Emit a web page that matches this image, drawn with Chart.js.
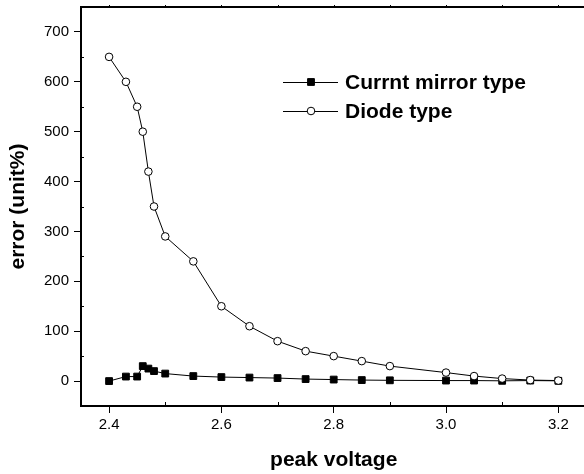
<!DOCTYPE html>
<html>
<head>
<meta charset="utf-8">
<script src="https://cdn.jsdelivr.net/npm/chart.js@4"></script>
<style>
html, body { margin: 0; padding: 0; background: #fff; overflow: hidden; }
</style>
</head>
<body>
<canvas id="chart" width="600" height="474"></canvas>
<script>
const voltage = [2.4, 2.43, 2.45, 2.46, 2.47, 2.48, 2.5, 2.55, 2.6, 2.65, 2.7, 2.75, 2.8, 2.85, 2.9, 3.0, 3.05, 3.1, 3.15, 3.2];
const mirrorError = [0, 9, 9, 30, 25, 20, 15, 10, 8, 7, 6, 4, 3, 2, 1.5, 1, 1, 0.5, 1, 0.5];
const diodeError = [650, 600, 550, 500, 420, 350, 290, 240, 150, 110, 80, 60, 50, 40, 30, 17, 10, 5, 2, 1];
const seriesNames = ['Currnt mirror type', 'Diode type'];

const xTicks = [2.4, 2.6, 2.8, 3.0, 3.2];
const xMinorTicks = [2.5, 2.7, 2.9, 3.1];
const yTicks = [0, 100, 200, 300, 400, 500, 600, 700];
const yMinorTicks = [-50, 50, 150, 250, 350, 450, 550, 650];

const FONT = "'Liberation Sans', Arial, sans-serif";

const toPoints = (xs, ys) => xs.map((x, i) => ({ x: x, y: ys[i] }));

// frame, minor ticks and a legend with the line through the marker
const extras = {
    id: 'extras',
    afterDraw(chart) {
        const ctx = chart.ctx;
        const a = chart.chartArea;
        const xs = chart.scales.x, ys = chart.scales.y;
        ctx.save();
        ctx.strokeStyle = '#000';
        ctx.lineWidth = 2;
        ctx.strokeRect(a.left, a.top, a.right - a.left, a.bottom - a.top);

        ctx.lineWidth = 1;
        ctx.beginPath();
        xMinorTicks.forEach(v => {
            const px = Math.round(xs.getPixelForValue(v)) + 0.5;
            ctx.moveTo(px, a.bottom); ctx.lineTo(px, a.bottom - 4);
        });
        xTicks.concat(xMinorTicks).forEach(v => {
            const px = Math.round(xs.getPixelForValue(v)) + 0.5;
            ctx.moveTo(px, a.top); ctx.lineTo(px, a.top - 2);
        });
        yMinorTicks.forEach(v => {
            const py = Math.round(ys.getPixelForValue(v)) + 0.5;
            ctx.moveTo(a.left, py); ctx.lineTo(a.left + 3, py);
        });
        ctx.stroke();

        // legend
        chart.data.datasets.forEach((ds, i) => {
            const y = 82 + i * 29;
            ctx.strokeStyle = ds.borderColor;
            ctx.lineWidth = 1;
            ctx.beginPath();
            ctx.moveTo(283, y + 0.5); ctx.lineTo(338, y + 0.5);
            ctx.stroke();
            ctx.fillStyle = ds.pointBackgroundColor;
            ctx.strokeStyle = ds.pointBorderColor;
            ctx.beginPath();
            if (ds.pointStyle === 'rect') {
                const s = ds.pointRadius * Math.SQRT1_2;
                ctx.rect(311 - s, y - s, 2 * s, 2 * s);
            } else {
                ctx.arc(311, y, ds.pointRadius, 0, Math.PI * 2);
            }
            ctx.fill(); ctx.stroke();
            ctx.fillStyle = '#000';
            ctx.font = 'bold 21px ' + FONT;
            ctx.textBaseline = 'middle';
            ctx.textAlign = 'left';
            ctx.fillText(ds.label, 345, y + 1);
        });
        ctx.restore();
    }
};

new Chart(document.getElementById('chart'), {
    type: 'line',
    data: {
        datasets: [{
            label: seriesNames[0],
            data: toPoints(voltage, mirrorError),
            borderColor: '#000',
            borderWidth: 1,
            pointStyle: 'rect',
            pointRadius: 4.8,
            pointBackgroundColor: '#000',
            pointBorderColor: '#000',
            pointBorderWidth: 1,
            order: 1
        }, {
            label: seriesNames[1],
            data: toPoints(voltage, diodeError),
            borderColor: '#000',
            borderWidth: 1,
            pointStyle: 'circle',
            pointRadius: 3.8,
            pointBackgroundColor: '#fff',
            pointBorderColor: '#000',
            pointBorderWidth: 1,
            order: 0
        }]
    },
    options: {
        responsive: false,
        animation: false,
        layout: { padding: { top: 7, right: 13.6, left: 0, bottom: 0 } },
        plugins: { legend: { display: false }, tooltip: { enabled: false } },
        scales: {
            x: {
                type: 'linear',
                min: 2.35, max: 3.25,
                afterBuildTicks: s => { s.ticks = xTicks.map(v => ({ value: v })); },
                afterFit: s => { s.height = 68; s.paddingLeft = 0; s.paddingRight = 0; },
                grid: { drawOnChartArea: false, tickLength: 7, color: '#000', lineWidth: 1 },
                border: { color: '#000', width: 2 },
                ticks: {
                    color: '#000', padding: 3, maxRotation: 0,
                    font: { family: FONT, size: 15 },
                    callback: v => v.toFixed(1)
                },
                title: {
                    display: true, text: 'peak voltage', color: '#000',
                    font: { family: FONT, size: 21, weight: 'bold' },
                    padding: { top: 0, bottom: 1 }
                }
            },
            y: {
                type: 'linear',
                min: -50, max: 750,
                afterBuildTicks: s => { s.ticks = yTicks.map(v => ({ value: v })); },
                afterFit: s => { s.width = 81; s.paddingTop = 0; s.paddingBottom = 0; },
                grid: { drawOnChartArea: false, tickLength: 7, color: '#000', lineWidth: 1 },
                border: { color: '#000', width: 2 },
                ticks: {
                    color: '#000', padding: 5,
                    font: { family: FONT, size: 15 }
                },
                title: {
                    display: true, text: 'error (unit%)', color: '#000',
                    font: { family: FONT, size: 21, weight: 'bold' },
                    padding: { top: 6, bottom: 0 }
                }
            }
        }
    },
    plugins: [extras]
});
</script>
</body>
</html>
